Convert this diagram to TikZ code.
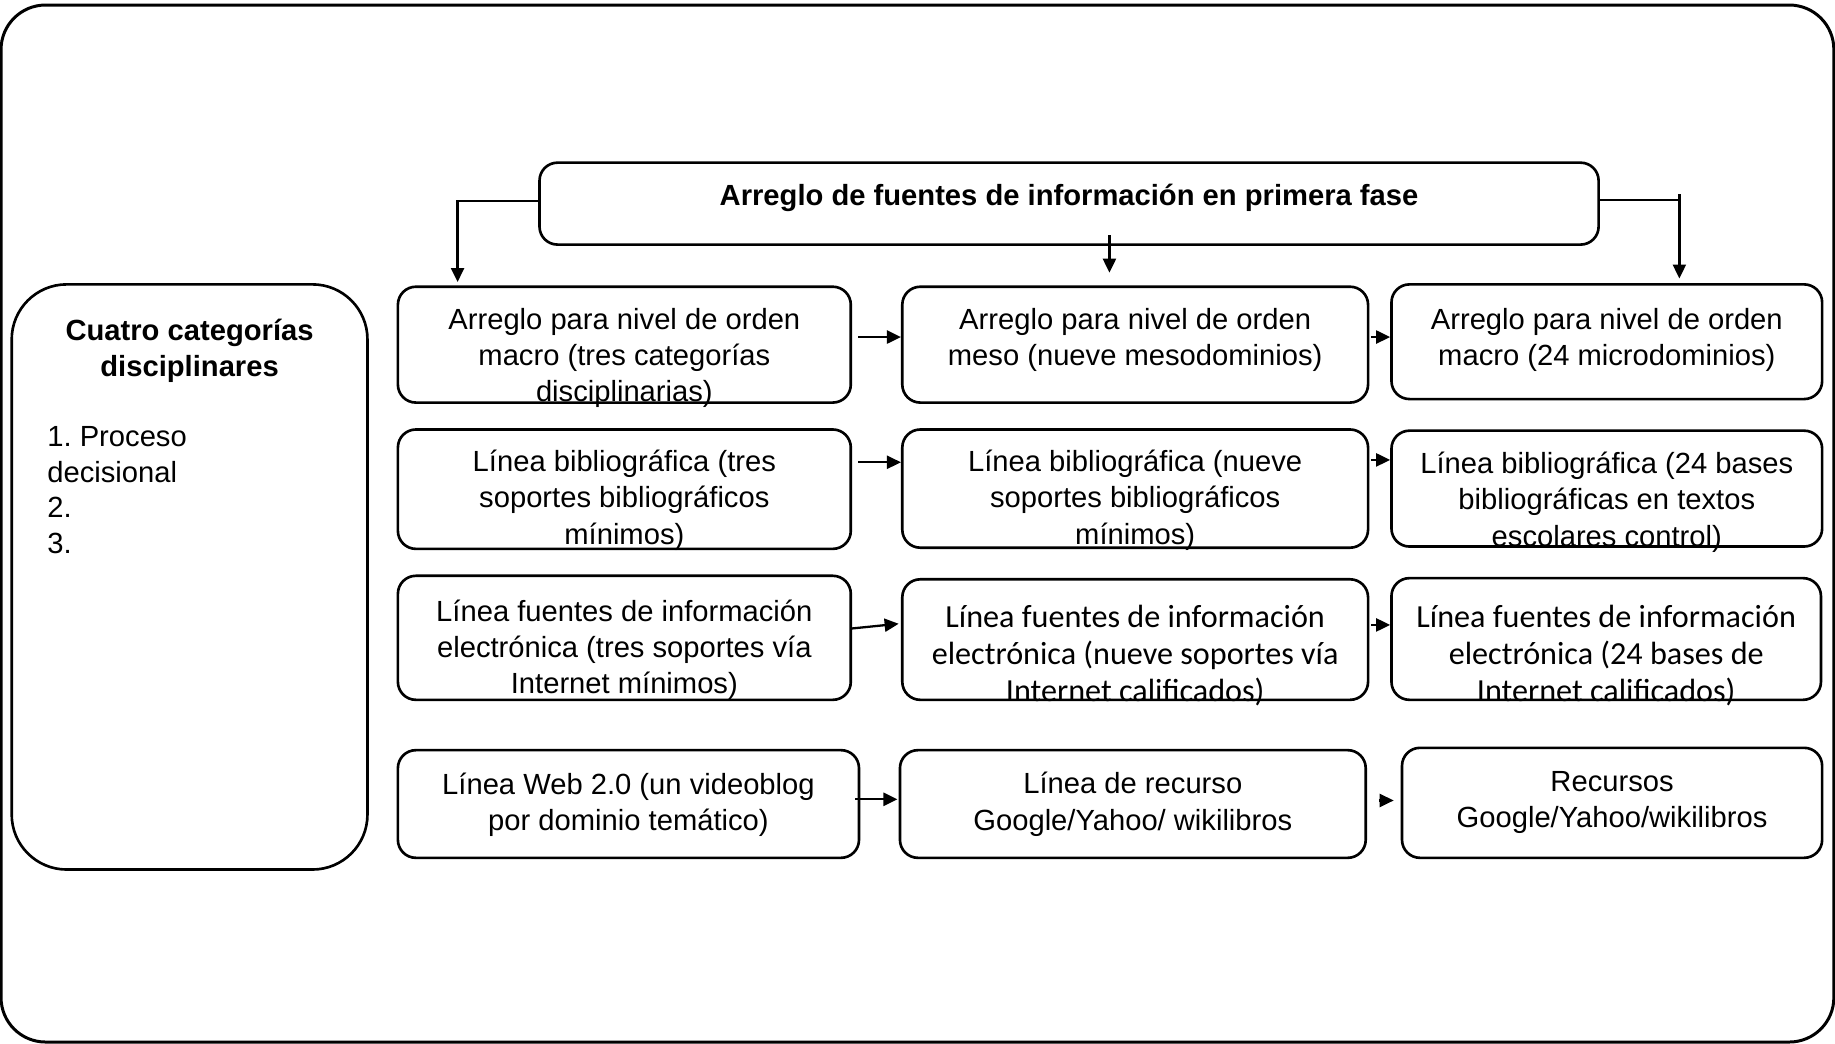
\documentclass[tikz,border=0pt]{standalone}
\usepackage{fontspec}
\setmainfont{Liberation Sans}
\newfontfamily\calfont{Carlito}
\usetikzlibrary{arrows.meta,calc,fit}
\frenchspacing
\begin{document}
\begin{tikzpicture}[x=0.011703cm, y=-0.011703cm,
  frame/.style={draw, rounded corners=0.445cm, line width=0.85pt},
  gbox/.style={draw, rounded corners=0.18cm, line width=0.75pt, inner sep=0pt},
  txt/.style={align=center, inner sep=0pt, font=\fontsize{8.3}{10.3}\selectfont},
  btxt/.style={align=center, inner sep=0pt, font=\fontsize{8.3}{10.2}\selectfont\bfseries},
  ltxt/.style={align=left, inner sep=0pt, font=\fontsize{8.3}{10.2}\selectfont},
  ctxt/.style={align=center, inner sep=0pt, font=\calfont\fontsize{9.15}{10.65}\selectfont},
  conn/.style={line width=0.65pt},
  arr/.style={conn, -{Triangle[length=0.14cm,width=0.13cm]}}]
\useasboundingbox (0,0) rectangle (1568,892);
\draw[frame] (0.9,4.3) rectangle (1567,890.4);

% top box
\node[gbox, fit={(461,139) (1366,209)}] (top) {};
\node[btxt, anchor=north] (toptxt) at ($(top.north)+(0,15.5)$) {\strut Arreglo de fuentes de información en primera fase};

% left box
\node[gbox, rounded corners=0.55cm, fit={(10,243) (314,743)}] (cat) {};
\node[btxt, anchor=north] (cattitle) at ($(cat.north)+(0,27.4)$) {\strut Cuatro categorías\\disciplinares};
\node[ltxt, anchor=north west] (catitems) at ($(cat.north west)+(31,117.4)$) {\strut 1. Proceso\\decisional\\2.\\3.};

% grid boxes
\node[gbox, fit={(340,245) (727,344)}] (b11) {};
\node[gbox, fit={(771,245) (1169,344)}] (b12) {};
\node[gbox, fit={(1189,243) (1557,341)}] (b13) {};
\node[gbox, fit={(340,367) (727,469)}] (b21) {};
\node[gbox, fit={(771,367) (1169,468)}] (b22) {};
\node[gbox, fit={(1189,368) (1557,467)}] (b23) {};
\node[gbox, fit={(340,492) (727,598)}] (b31) {};
\node[gbox, fit={(771,495) (1169,598)}] (b32) {};
\node[gbox, fit={(1189,494) (1556,598)}] (b33) {};
\node[gbox, fit={(340,641) (734,733)}] (b41) {};
\node[gbox, fit={(769,641) (1167,733)}] (b42) {};
\node[gbox, fit={(1198,639) (1557,733)}] (b43) {};

% texts
\node[txt, anchor=north] (t11) at ($(b11.north)+(0,15.2)$) {\strut Arreglo para nivel de orden\\macro (tres categorías\\disciplinarias)};
\node[txt, anchor=north] (t12) at ($(b12.north)+(0,15.2)$) {\strut Arreglo para nivel de orden\\meso (nueve mesodominios)};
\node[txt, anchor=north] (t13) at ($(b13.north)+(0,17.2)$) {\strut Arreglo para nivel de orden\\macro (24 microdominios)};
\node[txt, anchor=north] (t21) at ($(b21.north)+(0,14.9)$) {\strut Línea bibliográfica (tres\\soportes bibliográficos\\mínimos)};
\node[txt, anchor=north] (t22) at ($(b22.north)+(0,14.9)$) {\strut Línea bibliográfica (nueve\\soportes bibliográficos\\mínimos)};
\node[txt, anchor=north] (t23) at ($(b23.north)+(0,15.6)$) {\strut Línea bibliográfica (24 bases\\bibliográficas en textos\\escolares control)};
\node[txt, anchor=north] (t31) at ($(b31.north)+(0,17.6)$) {\strut Línea fuentes de información\\electrónica (tres soportes vía\\Internet mínimos)};
\node[ctxt, anchor=north] (t32) at ($(b32.north)+(0,19)$) {\strut Línea fuentes de información\\electrónica (nueve soportes vía\\Internet calificados)};
\node[ctxt, anchor=north] (t33) at ($(b33.north)+(0,20)$) {\strut Línea fuentes de información\\electrónica (24 bases de\\Internet calificados)};
\node[txt, anchor=north] (t41) at ($(b41.north)+(0,17)$) {\strut Línea Web 2.0 (un videoblog\\por dominio temático)};
\node[txt, anchor=north] (t42) at ($(b42.north)+(0,16.2)$) {\strut Línea de recurso\\Google/Yahoo/ wikilibros};
\node[txt, anchor=north] (t43) at ($(b43.north)+(0,16.2)$) {\strut Recursos\\Google/Yahoo/wikilibros};

% connectors from top box
\coordinate (lc) at (391,172);
\coordinate (lt) at (391,241);
\draw[arr] (top.west |- lc) -- (lc) -- (lt);
\coordinate (ms) at (948,201);
\coordinate (me) at (948,233);
\draw[arr] (ms) -- (me);
\coordinate (rc) at (1435,171);
\coordinate (rs) at (1435,166);
\coordinate (rt) at (1435,238);
\draw[conn] (top.east |- rc) -- (rc);
\draw[arr] (rs) -- (rt);

% row connectors
\coordinate (y1) at (0,288);
\coordinate (y2) at (0,395);
\coordinate (y2b) at (0,393);
\coordinate (y3a) at (0,537);
\coordinate (y3b) at (0,533);
\coordinate (y3c) at (0,534);
\coordinate (y4) at (0,683);
\coordinate (y4b) at (0,684);
\draw[arr, shorten <=0.06cm] (b11.east |- y1) -- (b12.west |- y1);
\draw[arr, shorten <=0.02cm] (b12.east |- y1) -- (b13.west |- y1);
\draw[arr, shorten <=0.06cm] (b21.east |- y2) -- (b22.west |- y2);
\draw[arr, shorten <=0.02cm] (b22.east |- y2b) -- (b23.west |- y2b);
\draw[arr] (b31.east |- y3a) -- ($(b32.west |- y3b)+(-2,0)$);
\draw[arr, shorten <=0.02cm] (b32.east |- y3c) -- (b33.west |- y3c);
\draw[arr, shorten <=-0.05cm] (b41.east |- y4) -- ($(b42.west |- y4)+(-1,0)$);
\draw[arr, shorten <=0.117cm, shorten >=0.07cm] (b42.east |- y4b) -- (b43.west |- y4b);
\end{tikzpicture}
\end{document}
